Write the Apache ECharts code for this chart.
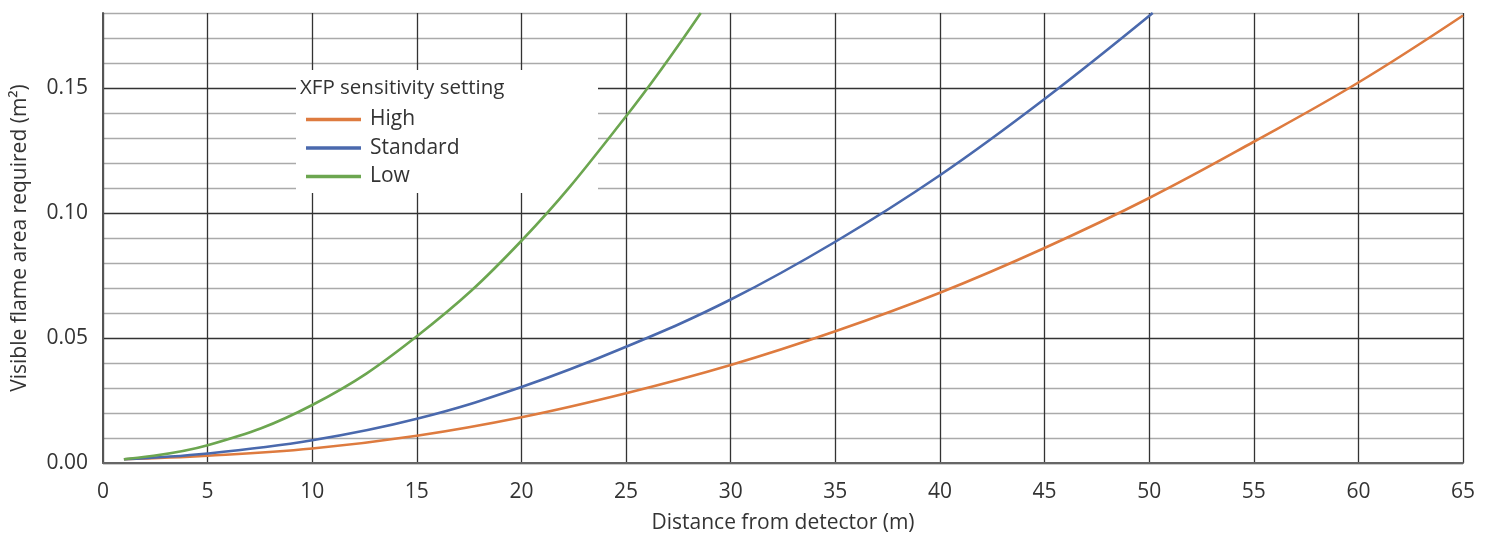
<!DOCTYPE html>
<html>
<head>
<meta charset="utf-8">
<script src="https://cdn.jsdelivr.net/npm/echarts@6/dist/echarts.min.js"></script>
<style>html,body{margin:0;padding:0;background:#fff;}#c{width:1492px;height:539px;}</style>
</head>
<body>
<div id="c"></div>
<script>
const seriesNames = ['High', 'Standard', 'Low'];
const highX = [1, 5, 10, 15, 20, 25, 30, 35, 40, 45, 50, 55, 60, 65];
const highY = [0.0015, 0.0029, 0.0058, 0.0109, 0.0183, 0.0279, 0.0392, 0.0527, 0.0681, 0.0860, 0.1060, 0.1285, 0.1522, 0.1790];
const standardX = [1, 5, 10, 15, 20, 25, 30, 35, 40, 45, 50.17];
const standardY = [0.0015, 0.0038, 0.0091, 0.0177, 0.0304, 0.0465, 0.0654, 0.0885, 0.1151, 0.1456, 0.1800];
const lowX = [1, 5, 10, 15, 20, 25, 28.57];
const lowY = [0.0015, 0.0071, 0.0232, 0.0507, 0.0889, 0.1387, 0.1800];
const xTicks = [0, 5, 10, 15, 20, 25, 30, 35, 40, 45, 50, 55, 60, 65];
const yTickLabels = [0, 0.05, 0.10, 0.15];
const legendTitle = 'XFP sensitivity setting';
const xName = 'Distance from detector (m)';
const yName = 'Visible flame area required (m²)';
const colors = ['#DE7B3F', '#4A69AD', '#6CA650'];

const zip = (xs, ys) => xs.map((x, i) => [x, ys[i]]);
const FONT = 'Open Sans';
const FS = 21;
const chart = echarts.init(document.getElementById('c'), null, {renderer: 'canvas'});
chart.setOption({
  animation: false,
  color: colors,
  grid: {left: 103, right: 29, top: 13, bottom: 74, containLabel: false},
  xAxis: {
    type: 'value', min: xTicks[0], max: xTicks[xTicks.length - 1], interval: 5,
    name: xName, nameLocation: 'middle', nameGap: 50,
    nameTextStyle: {fontFamily: FONT, fontSize: FS, color: '#333'},
    axisLine: {show: true, lineStyle: {color: '#666', width: 2}},
    axisTick: {show: false},
    axisLabel: {fontFamily: FONT, fontSize: FS, color: '#333', margin: 19,
      formatter: v => xTicks.includes(v) ? String(v) : ''},
    splitLine: {show: true, lineStyle: {color: '#333', width: 1.3}}
  },
  yAxis: {
    type: 'value', min: 0, max: 0.18, interval: 0.01,
    name: yName, nameLocation: 'middle', nameGap: 72, nameRotate: 90,
    nameTextStyle: {fontFamily: FONT, fontSize: FS, color: '#333'},
    axisLine: {show: true, lineStyle: {color: '#555', width: 2}},
    axisTick: {show: false},
    axisLabel: {fontFamily: FONT, fontSize: FS, color: '#333', margin: 15,
      formatter: v => {
        const m = yTickLabels.find(t => Math.abs(t - v) < 1e-6);
        return m === undefined ? '' : m.toFixed(2);
      }},
    splitLine: {show: true, lineStyle: {color: ['#333', '#aaa', '#aaa', '#aaa', '#aaa'], width: 1.3}}
  },
  legend: {
    orient: 'vertical', left: 306, top: 109, padding: 0, itemGap: 7.5,
    itemWidth: 55, itemHeight: 3.5, icon: 'rect', z: 20,
    data: seriesNames,
    textStyle: {fontFamily: FONT, fontSize: FS, color: '#333', lineHeight: 20, padding: [0, 0, 0, 4]}
  },
  graphic: [
    {type: 'rect', left: 296, top: 70, z: 1, shape: {width: 302, height: 123}, style: {fill: '#fff'}},
    {type: 'text', left: 300, top: 78, z: 11, style: {text: legendTitle, fontFamily: FONT, fontSize: 20.5, fill: '#333'}}
  ],
  series: [
    {name: seriesNames[0], type: 'line', data: zip(highX, highY), smooth: 0.4, showSymbol: false, lineStyle: {width: 2.6, color: colors[0]}, z: 3},
    {name: seriesNames[1], type: 'line', data: zip(standardX, standardY), smooth: 0.4, showSymbol: false, lineStyle: {width: 2.6, color: colors[1]}, z: 3},
    {name: seriesNames[2], type: 'line', data: zip(lowX, lowY), smooth: 0.4, showSymbol: false, lineStyle: {width: 2.6, color: colors[2]}, z: 3}
  ]
});
</script>
</body>
</html>
